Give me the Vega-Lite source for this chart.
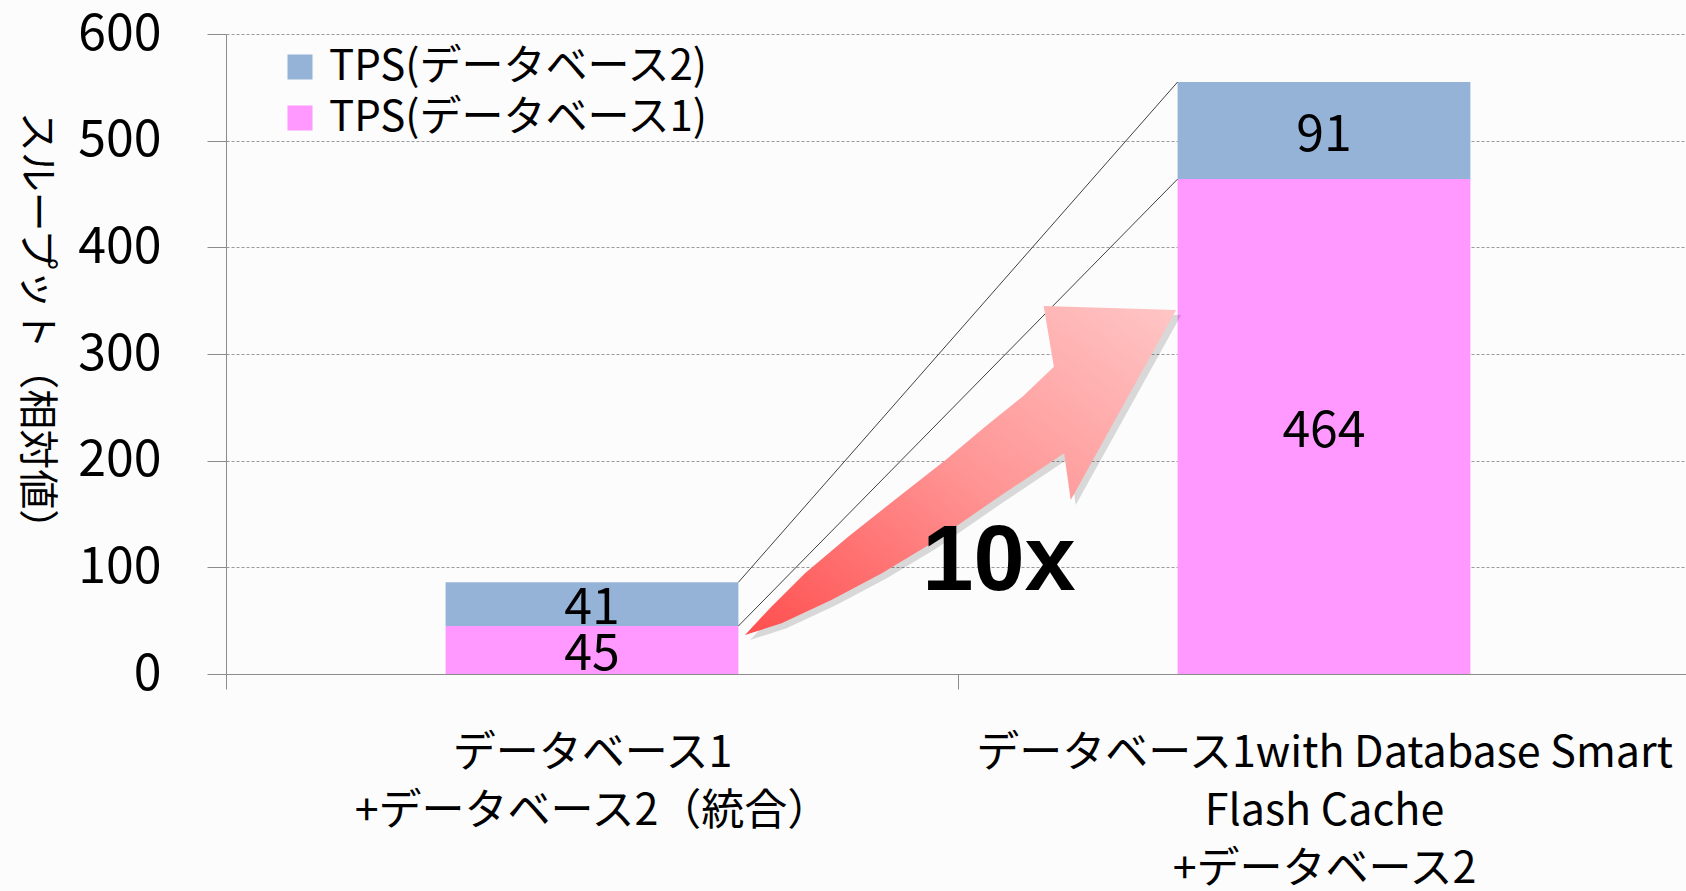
{
  "$schema": "https://vega.github.io/schema/vega-lite/v6.json",
  "width": 1464,
  "height": 640,
  "autosize": {"type": "none"},
  "padding": {"left": 226, "top": 34, "right": 0, "bottom": 217},
  "background": "#FCFCFC",
  "config": {
    "view": {"stroke": null},
    "font": "Noto Sans CJK JP",
    "axis": {"labelColor": "#000000", "titleColor": "#000000"}
  },
  "datasets": {
    "tps": [
      {"構成": "データベース1\n+データベース2（統合）", "系列": "TPS(データベース1)", "順": 1, "tps": 45},
      {"構成": "データベース1\n+データベース2（統合）", "系列": "TPS(データベース2)", "順": 2, "tps": 41},
      {"構成": "データベース1with Database Smart\nFlash Cache\n+データベース2", "系列": "TPS(データベース1)", "順": 1, "tps": 464},
      {"構成": "データベース1with Database Smart\nFlash Cache\n+データベース2", "系列": "TPS(データベース2)", "順": 2, "tps": 91}
    ],
    "series_lines": [
      {"from": "データベース1\n+データベース2（統合）", "to": "データベース1with Database Smart\nFlash Cache\n+データベース2", "from_tps": 86, "to_tps": 555},
      {"from": "データベース1\n+データベース2（統合）", "to": "データベース1with Database Smart\nFlash Cache\n+データベース2", "from_tps": 45, "to_tps": 464}
    ],
    "arrow": [
      {"i": 1, "u": 0.709, "v": 36.6},
      {"i": 2, "u": 0.759, "v": 47.5},
      {"i": 3, "u": 0.827, "v": 69.4},
      {"i": 4, "u": 0.896, "v": 94.4},
      {"i": 5, "u": 0.964, "v": 122.5},
      {"i": 6, "u": 1.056, "v": 166.2},
      {"i": 7, "u": 1.145, "v": 206.9},
      {"i": 8, "u": 1.154, "v": 163.1},
      {"i": 9, "u": 1.298, "v": 341.3},
      {"i": 10, "u": 1.117, "v": 345.0},
      {"i": 11, "u": 1.131, "v": 288.1},
      {"i": 12, "u": 1.088, "v": 260.0},
      {"i": 13, "u": 1.037, "v": 231.8},
      {"i": 14, "u": 0.983, "v": 200.6},
      {"i": 15, "u": 0.919, "v": 166.2},
      {"i": 16, "u": 0.850, "v": 128.7},
      {"i": 17, "u": 0.791, "v": 94.4},
      {"i": 18, "u": 0.745, "v": 63.1}
    ]
  },
  "resolve": {"scale": {"x": "independent"}, "axis": {"x": "independent", "y": "independent"}},
  "layer": [
    {
      "layer": [
        {
          "data": {"name": "tps"},
          "mark": {"type": "bar", "width": {"band": 0.4}},
          "encoding": {
            "x": {
              "field": "構成",
              "type": "nominal",
              "sort": null,
              "title": null,
              "scale": {"paddingInner": 0, "paddingOuter": 0},
              "axis": {
                "labelExpr": "split(datum.label, '\\n')",
                "labelAngle": 0,
                "labelFontSize": 43,
                "labelLineHeight": 58,
                "labelPadding": 43,
                "labelBaseline": "top",
                "labelLimit": 0,
                "tickBand": "extent",
                "tickSize": 15,
                "tickColor": "#8C8C8C",
                "domainColor": "#8C8C8C",
                "grid": false
              }
            },
            "y": {
              "field": "tps",
              "type": "quantitative",
              "stack": "zero",
              "scale": {"domain": [0, 600], "nice": false},
              "axis": {
                "title": "スループット（相対値）",
                "titleFontSize": 40,
                "titleFontWeight": "normal",
                "titleAngle": 90,
                "titleAlign": "center",
                "titleBaseline": "middle",
                "titleX": -191,
                "titleY": 296,
                "values": [0, 100, 200, 300, 400, 500, 600],
                "labelFontSize": 50,
                "labelPadding": 46,
                "labelBaseline": "middle",
                "tickSize": 19,
                "tickColor": "#8C8C8C",
                "domainColor": "#8C8C8C",
                "grid": true,
                "gridColor": "#9A9A9A",
                "gridDash": [3, 2],
                "gridWidth": 1
              }
            },
            "color": {
              "field": "系列",
              "type": "nominal",
              "scale": {
                "domain": ["TPS(データベース2)", "TPS(データベース1)"],
                "range": ["#95B3D7", "#FF99FF"]
              },
              "legend": {
                "title": null,
                "orient": "none",
                "legendX": 53,
                "legendY": 12,
                "symbolType": "square",
                "symbolSize": 625,
                "symbolStrokeWidth": 0,
                "labelFontSize": 42,
                "labelColor": "#000000",
                "labelOffset": 8,
                "labelLimit": 0,
                "rowPadding": 9
              }
            },
            "order": {"field": "順", "type": "quantitative"}
          }
        },
        {
          "data": {"name": "tps"},
          "transform": [
            {"stack": "tps", "groupby": ["構成"], "sort": [{"field": "順"}], "as": ["下端", "上端"]},
            {"calculate": "(datum['下端'] + datum['上端']) / 2", "as": "中央"}
          ],
          "mark": {"type": "text", "fontSize": 50, "color": "#000000", "baseline": "middle", "align": "center", "dy": 5},
          "encoding": {
            "x": {"field": "構成", "type": "nominal", "sort": null},
            "y": {"field": "中央", "type": "quantitative"},
            "text": {"field": "tps", "type": "quantitative"}
          }
        },
        {
          "data": {"name": "series_lines"},
          "mark": {"type": "rule", "color": "#404040", "strokeWidth": 1},
          "encoding": {
            "x": {"field": "from", "type": "nominal", "sort": null, "bandPosition": 0.7},
            "x2": {"field": "to", "bandPosition": 0.3},
            "y": {"field": "from_tps", "type": "quantitative"},
            "y2": {"field": "to_tps"}
          }
        }
      ]
    },
    {
      "layer": [
        {
          "data": {"name": "arrow"},
          "mark": {"type": "line", "interpolate": "linear-closed", "fill": "#000000", "fillOpacity": 0.14, "strokeWidth": 0, "xOffset": 5, "yOffset": 5},
          "encoding": {
            "x": {"field": "u", "type": "quantitative", "scale": {"domain": [0, 2], "nice": false, "zero": false}, "axis": null},
            "y": {"field": "v", "type": "quantitative", "axis": null},
            "order": {"field": "i", "type": "quantitative"}
          }
        },
        {
          "data": {"name": "arrow"},
          "mark": {
            "type": "line",
            "interpolate": "linear-closed",
            "strokeWidth": 0,
            "fill": {
              "gradient": "linear",
              "x1": 0, "y1": 1, "x2": 1, "y2": 0,
              "stops": [
                {"offset": 0, "color": "#FF4E4E"},
                {"offset": 0.5, "color": "#FF9494"},
                {"offset": 1, "color": "#FFC6C6"}
              ]
            }
          },
          "encoding": {
            "x": {"field": "u", "type": "quantitative", "axis": null},
            "y": {"field": "v", "type": "quantitative", "axis": null},
            "order": {"field": "i", "type": "quantitative"}
          }
        },
        {
          "data": {"values": [{"注記": "10x"}]},
          "mark": {"type": "text", "font": "Liberation Sans", "fontWeight": "bold", "fontSize": 92, "color": "#000000", "align": "center", "baseline": "alphabetic"},
          "encoding": {
            "x": {"datum": 1.056, "type": "quantitative"},
            "y": {"datum": 79, "type": "quantitative"},
            "text": {"field": "注記", "type": "nominal"}
          }
        }
      ]
    }
  ]
}
